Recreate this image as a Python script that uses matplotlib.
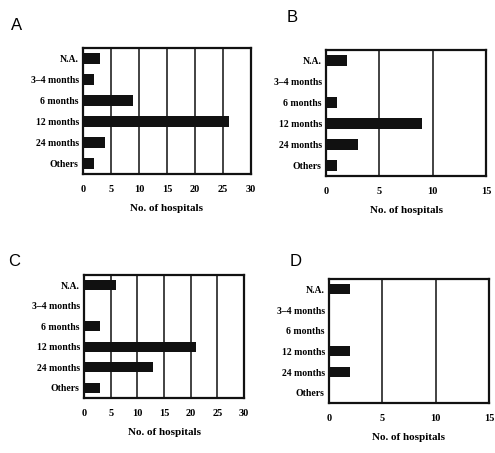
import matplotlib
matplotlib.use("Agg")
import matplotlib.pyplot as plt

categories = ["N.A.", "3\u20134 months", "6 months", "12 months", "24 months", "Others"]
values_a = [3, 2, 9, 26, 4, 2]
values_b = [2, 0, 1, 9, 3, 1]
values_c = [6, 0, 3, 21, 13, 3]
values_d = [2, 0, 0, 2, 2, 0]
xticks_a = [0, 5, 10, 15, 20, 25, 30]
xticks_b = [0, 5, 10, 15]
panel_letters = ["A", "B", "C", "D"]

plt.rcParams['font.family'] = ['Liberation Serif', 'DejaVu Serif']
W, H = 495, 453
fig = plt.figure(figsize=(W / 100, H / 100), dpi=100)

def rect(l, t, r, b):
    return [l / W, 1 - b / H, (r - l) / W, (b - t) / H]

panels = [
    (values_a, xticks_a, rect(83, 48, 251, 174), (11, 26)),
    (values_b, xticks_b, rect(326, 50, 486, 176), (287, 18)),
    (values_c, xticks_a, rect(84, 275, 244, 398), (8, 262)),
    (values_d, xticks_b, rect(329, 279, 489, 403), (290, 261)),
]

for (vals, ticks, r, letter_pos), letter in zip(panels, panel_letters):
    ax = fig.add_axes(r)
    y = list(range(len(categories)))
    ax.barh(y, vals, height=0.48, color="#111111", zorder=3)
    ax.set_ylim(len(categories) - 0.5, -0.5)
    ax.set_xlim(ticks[0], ticks[-1])
    ax.set_xticks(ticks)
    ax.set_xticklabels([str(t) for t in ticks], fontsize=7.5, fontweight="bold")
    ax.set_yticks(y)
    ax.set_yticklabels(categories, fontsize=7, fontweight="bold")
    ax.tick_params(axis='x', length=0, pad=8)
    ax.tick_params(axis='y', length=0, pad=3)
    ax.grid(axis='x', color="#222222", linewidth=1.2, zorder=1)
    for s in ax.spines.values():
        s.set_linewidth(1.6)
        s.set_color("#111111")
    ax.set_xlabel("No. of hospitals", fontsize=8, fontweight="bold", labelpad=7)
    fig.text(letter_pos[0] / W, 1 - letter_pos[1] / H, letter, fontsize=12,
             family=["Liberation Sans", "DejaVu Sans"], va="center", ha="left")

fig.savefig("out.png", dpi=100)
